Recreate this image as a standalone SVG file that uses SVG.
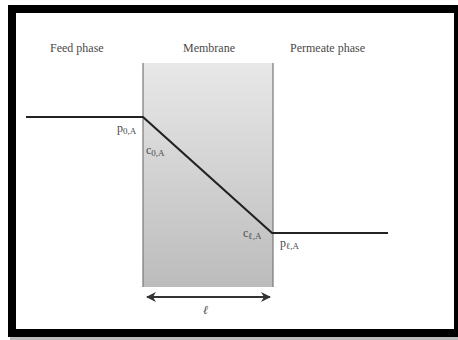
<svg xmlns="http://www.w3.org/2000/svg" width="458" height="340" viewBox="0 0 458 340">
<defs>
<linearGradient id="mg" x1="0" y1="0" x2="0" y2="1">
<stop offset="0" stop-color="#e8e8e8"/>
<stop offset="1" stop-color="#bcbcbc"/>
</linearGradient>
<marker id="ah" viewBox="0 0 10 10" refX="9" refY="5" markerWidth="5" markerHeight="5" orient="auto-start-reverse">
<path d="M0,0 L10,5 L0,10 L3,5 Z" fill="#333"/>
</marker>
<style>
.t{font-family:"Liberation Serif",serif;font-size:12px;fill:#4a4a4a}
.s{font-family:"Liberation Serif",serif;font-size:9px;fill:#4a4a4a}
.ln{stroke:#222;stroke-width:2.2;fill:none}
.edge{stroke:#777;stroke-width:1.2}
</style>
</defs>
<rect x="0" y="0" width="458" height="340" fill="#fff"/>
<rect x="10" y="337" width="448" height="3" fill="#bbb"/>
<rect x="12" y="9" width="446" height="324" fill="none" stroke="#000" stroke-width="8"/>
<g id="feed"><text class="t" x="50" y="52">Feed phase</text></g>
<g id="membrane">
<rect x="143" y="63" width="130" height="224" fill="url(#mg)"/>
<line class="edge" x1="143" y1="63" x2="143" y2="287"/>
<line class="edge" x1="273" y1="63" x2="273" y2="287"/>
<text class="t" x="183" y="52">Membrane</text>
</g>
<g id="permeate"><text class="t" x="290" y="52">Permeate phase</text></g>
<g id="connectors">
<polyline class="ln" points="26,117 143,117 272,233 388,233"/>
<line x1="147" y1="297" x2="270" y2="297" stroke="#333" stroke-width="2" marker-start="url(#ah)" marker-end="url(#ah)"/>
</g>
<g id="labels">
<text class="t" x="117" y="132">p<tspan class="s" dy="2">0</tspan><tspan class="s">,A</tspan></text>
<text class="t" x="146" y="154">c<tspan class="s" dy="2">0</tspan><tspan class="s">,A</tspan></text>
<text class="t" x="243" y="237">c<tspan class="s" dy="2">ℓ</tspan><tspan class="s">,A</tspan></text>
<text class="t" x="280" y="247">p<tspan class="s" dy="2">ℓ</tspan><tspan class="s">,A</tspan></text>
<text class="t" x="203" y="314" font-style="italic">ℓ</text>
</g>
</svg>
